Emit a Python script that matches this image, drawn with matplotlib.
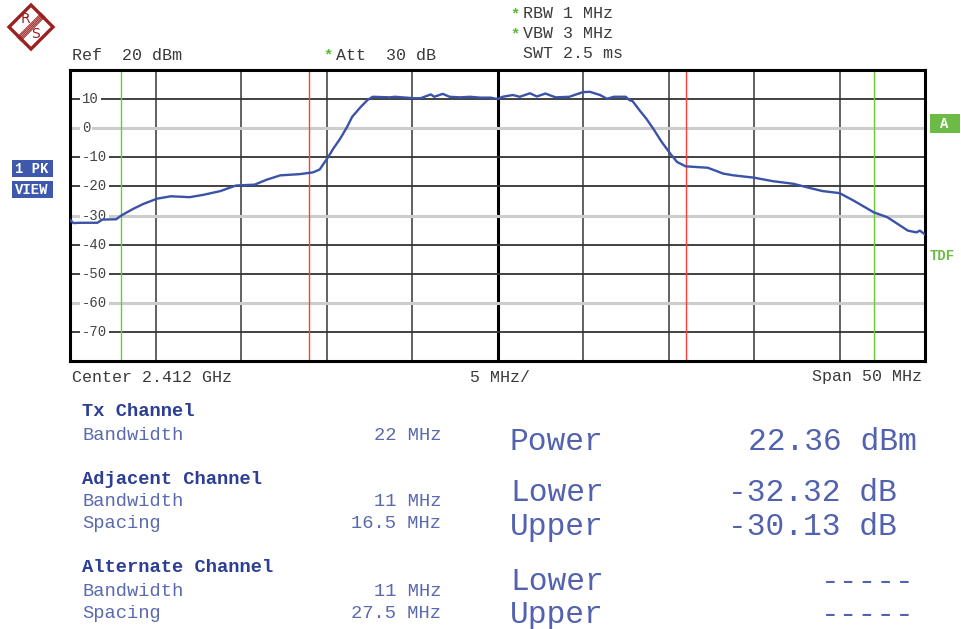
import matplotlib
matplotlib.use("Agg")
import matplotlib.pyplot as plt
from matplotlib.patches import Polygon, Rectangle

plt.rcParams['font.family'] = ['Liberation Mono', 'DejaVu Sans Mono']

# Trace data (offset from 2.412 GHz in MHz, level in dBm)
freq_mhz = [-25.0, -24.8, -24.4, -23.4, -23.1, -22.3, -22.0, -21.3, -20.7, -19.9,
            -19.1, -18.0, -17.2, -16.2, -15.3, -14.2, -13.5, -12.7, -11.6, -10.8,
            -10.4, -10.1, -9.9, -9.6, -9.2, -8.8, -8.5, -8.0, -7.6, -7.3,
            -6.3, -6.0, -4.9, -4.5, -3.9, -3.7, -3.2, -2.8, -2.2, -1.6, -1.0,
            -0.4, 0.0, 0.3, 0.9, 1.3, 1.9, 2.3, 2.8, 3.4, 4.2,
            5.0, 5.4, 6.0, 6.4, 6.8, 7.5, 7.7, 7.9, 8.3, 8.7,
            9.1, 9.6, 10.1, 10.5, 11.0, 12.3, 13.2, 13.8, 15.0, 16.1,
            17.3, 18.3, 19.0, 20.0, 20.8, 22.0, 22.8, 24.0, 24.5, 24.7, 25.0]
level_dbm = [-31.5, -32.6, -32.5, -32.5, -31.4, -31.3, -30.0, -27.7, -26.0, -24.2,
             -23.4, -23.7, -22.9, -21.6, -19.7, -19.4, -17.7, -16.2, -15.8, -15.2,
             -14.2, -11.6, -9.9, -7.0, -3.6, 0.4, 3.9, 7.3, 9.7, 10.8,
             10.6, 10.8, 10.3, 10.3, 11.6, 10.8, 11.8, 10.8, 10.6, 10.8, 10.5,
             10.5, 10.0, 10.8, 11.4, 10.8, 12.0, 10.9, 11.9, 10.6, 10.8,
             12.4, 12.5, 11.4, 10.1, 10.8, 10.8, 9.7, 9.3, 6.2, 3.3,
             -0.1, -4.7, -8.7, -11.6, -13.1, -13.6, -15.6, -16.2, -17.0, -18.2,
             -19.1, -20.6, -21.6, -22.3, -24.8, -28.9, -30.6, -35.2, -35.8, -35.2, -36.5]

# channel limit lines (MHz offsets)
tx_edges = [-11, 11]
adj_edges = [-22, 22]

y_ticks = [10, 0, -10, -20, -30, -40, -50, -60, -70]
light_rows = [0, -30, -60]

header = [("RBW 1 MHz", True), ("VBW 3 MHz", True), ("SWT 2.5 ms", False)]
settings = [("Tx Channel", None), ("Bandwidth", "22 MHz"),
            ("Adjacent Channel", None), ("Bandwidth", "11 MHz"), ("Spacing", "16.5 MHz"),
            ("Alternate Channel", None), ("Bandwidth", "11 MHz"), ("Spacing", "27.5 MHz")]
setting_rows = [412, 435, 479, 502, 524, 568, 591, 613]
results = [("Power", "22.36 dBm"), ("Lower", "-32.32 dB"), ("Upper", "-30.13 dB"),
           ("Lower", "-----"), ("Upper", "-----")]
result_rows = [442, 493, 527, 582, 615]
result_right = [917, 897, 897, 915, 915]

W, H = 961, 629
fig = plt.figure(figsize=(W / 100, H / 100), dpi=100)

ax = fig.add_axes([70 / W, 1 - 361 / H, 855 / W, 291 / H])
ax.set_xlim(-25, 25)
ax.set_ylim(-80, 20)
ax.set_xticks([])
ax.set_yticks([])
for s in ax.spines.values():
    s.set_linewidth(2.2)
    s.set_color("black")

for x in range(-20, 25, 5):
    if x == 0:
        ax.axvline(x, color="black", lw=2.2, zorder=1)
    else:
        ax.axvline(x, color="#555555", lw=1.3, zorder=1)
for y in range(-70, 20, 10):
    if y in light_rows:
        ax.axhline(y, color="#cccccc", lw=2.2, zorder=1)
    else:
        ax.axhline(y, color="#333333", lw=1.3, zorder=1)

for y in y_ticks:
    ax.text(-24.3, y, str(y), ha="left", va="center", fontsize=10, color="#444444",
            bbox=dict(facecolor="white", edgecolor="none", pad=1.5), zorder=3)

for e in tx_edges:
    ax.axvline(e, color="#ff3b3b", lw=1.0, zorder=2)
for e in adj_edges:
    ax.axvline(e, color="#66cc33", lw=1.0, zorder=2)

ax.plot(freq_mhz, level_dbm, color="#3a52a8", lw=1.7, zorder=4)

# overlay in pixel coordinates for all the annotation text
ov = fig.add_axes([0, 0, 1, 1], zorder=-1)
ov.set_xlim(0, W)
ov.set_ylim(H, 0)
ov.axis("off")

# R&S logo
c = (31, 27)
r = 22
logo_red = "#9b2020"
ov.add_patch(Polygon([(c[0], c[1] - r), (c[0] + r, c[1]), (c[0], c[1] + r), (c[0] - r, c[1])],
                     closed=True, facecolor="white", edgecolor=logo_red, lw=2.4))
for k in range(-2, 3):
    d = k * 0.9
    ov.plot([c[0] - 12 + d, c[0] + 12 + d], [c[1] + 12 + d, c[1] - 12 + d], color=logo_red, lw=0.7)
ov.text(c[0] - 6, c[1] - 8, "R", ha="center", va="center", fontsize=10, color=logo_red,
        family="DejaVu Sans")
ov.text(c[0] + 5, c[1] + 7, "S", ha="center", va="center", fontsize=10, color=logo_red,
        family="DejaVu Sans")

hdr_color = "#3a3a3a"
ov.text(72, 55, "Ref  20 dBm", ha="left", va="center", fontsize=12, color=hdr_color)
ov.text(328, 55, "*", ha="center", va="center", fontsize=11, color="#55bb33", fontweight="bold")
ov.text(336, 55, "Att  30 dB", ha="left", va="center", fontsize=12, color=hdr_color)
for i, (txt, star) in enumerate(header):
    yy = 14 + 20 * i
    if star:
        ov.text(515, yy, "*", ha="center", va="center", fontsize=11, color="#55bb33", fontweight="bold")
    ov.text(523, yy, txt, ha="left", va="center", fontsize=12, color=hdr_color)

ov.text(72, 377, "Center 2.412 GHz", ha="left", va="center", fontsize=12, color=hdr_color)
ov.text(500, 377, "5 MHz/", ha="center", va="center", fontsize=12, color=hdr_color)
ov.text(922, 377, "Span 50 MHz", ha="right", va="center", fontsize=12, color=hdr_color)

# side badges
ov.add_patch(Rectangle((12, 160), 41, 17, facecolor="#3d58ad", edgecolor="none"))
ov.add_patch(Rectangle((12, 181), 41, 17, facecolor="#3d58ad", edgecolor="none"))
ov.text(32, 169, "1 PK", ha="center", va="center", fontsize=10, color="white", fontweight="bold")
ov.text(32, 190, "VIEW", ha="center", va="center", fontsize=10, color="white", fontweight="bold")
ov.add_patch(Rectangle((930, 114), 30, 19, facecolor="#6cbb44", edgecolor="none"))
ov.text(944, 124, "A", ha="center", va="center", fontsize=10, color="white", fontweight="bold")
ov.text(930, 256, "TDF", ha="left", va="center", fontsize=10, color="#6cbb44", fontweight="bold")

# channel settings table
for (label, val), yy in zip(settings, setting_rows):
    if val is None:
        ov.text(82, yy, label, ha="left", va="center", fontsize=13.5, color="#2c3f95", fontweight="bold")
    else:
        ov.text(82, yy, label, ha="left", va="center", fontsize=13.5, color="#5a69b0")
        ov.text(441, yy, val, ha="right", va="center", fontsize=13.5, color="#5a69b0")

# measurement results
for (label, val), yy, xr in zip(results, result_rows, result_right):
    ov.text(510, yy, label, ha="left", va="center", fontsize=22.5, color="#5262ae")
    ov.text(xr, yy, val, ha="right", va="center", fontsize=22.5, color="#5262ae")

fig.savefig("out.png", dpi=100)
